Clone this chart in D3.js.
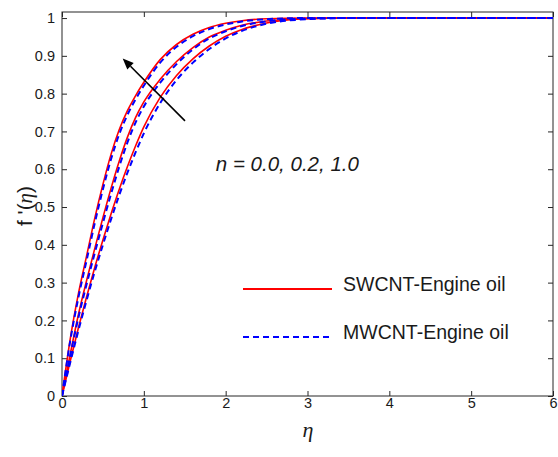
<!DOCTYPE html>
<html>
<head>
<meta charset="utf-8">
<script src="https://cdn.jsdelivr.net/npm/d3@7"></script>
<style>
  html, body { margin: 0; padding: 0; background: #fff; }
  svg { display: block; }
</style>
</head>
<body>
<svg id="chart" width="558" height="457"></svg>
<script>
// ---- data ----
const eta = [0,0.1,0.2,0.3,0.4,0.5,0.6,0.7,0.8,0.9,1.0,1.2,1.4,1.6,1.8,2.0,2.2,2.5,3.0,3.5,4,5,6];
const sw_n10 = [0,0.15,0.27,0.37,0.47,0.56,0.64,0.705,0.755,0.795,0.83,0.89,0.93,0.957,0.975,0.986,0.993,0.998,1,1,1,1,1];
const mw_n10 = [0,0.145,0.26,0.358,0.457,0.547,0.627,0.693,0.744,0.785,0.821,0.882,0.924,0.952,0.971,0.983,0.991,0.997,1,1,1,1,1];
const sw_n02 = [0,0.11,0.215,0.305,0.39,0.472,0.55,0.622,0.685,0.737,0.778,0.838,0.885,0.922,0.95,0.968,0.981,0.992,0.999,1,1,1,1];
const mw_n02 = [0,0.106,0.207,0.295,0.378,0.458,0.535,0.607,0.671,0.724,0.766,0.829,0.878,0.917,0.946,0.965,0.979,0.991,0.999,1,1,1,1];
const sw_n00 = [0,0.092,0.18,0.262,0.34,0.413,0.482,0.547,0.607,0.662,0.712,0.79,0.848,0.892,0.926,0.952,0.97,0.987,0.998,1,1,1,1];
const mw_n00 = [0,0.088,0.173,0.253,0.329,0.4,0.468,0.532,0.591,0.645,0.695,0.775,0.836,0.882,0.918,0.946,0.966,0.985,0.997,1,1,1,1];
const xTicks = [0,1,2,3,4,5,6];
const yTicks = [0,0.1,0.2,0.3,0.4,0.5,0.6,0.7,0.8,0.9,1];
const legendLabels = ["SWCNT-Engine oil", "MWCNT-Engine oil"];
const annotation = "n = 0.0, 0.2, 1.0";

// ---- layout ----
const svg = d3.select("#chart");
const m = {left: 62, top: 12, right: 5, bottom: 61};
const W = 558, H = 457;
const iw = W - m.left - m.right, ih = H - m.top - m.bottom;
const g = svg.append("g").attr("transform", `translate(${m.left},${m.top})`);

const x = d3.scaleLinear().domain([0, 6]).range([0, iw]);
const y = d3.scaleLinear().domain([0, 1.016]).range([ih, 0]);

svg.append("defs").append("clipPath").attr("id", "clip")
  .append("rect").attr("width", iw).attr("height", ih);

const axisColor = "#262626";
const fmt = d3.format("~g");
const font = "Arial, 'Liberation Sans', Helvetica, sans-serif";

// axes
const gx = g.append("g").attr("transform", `translate(0,${ih})`)
  .call(d3.axisBottom(x).tickValues(xTicks).tickFormat(fmt).tickSize(-5).tickPadding(2));
const gy = g.append("g")
  .call(d3.axisLeft(y).tickValues(yTicks).tickFormat(fmt).tickSize(-5).tickPadding(7));
const gt = g.append("g")
  .call(d3.axisTop(x).tickValues(xTicks).tickFormat("").tickSize(-5));
const gr = g.append("g").attr("transform", `translate(${iw},0)`)
  .call(d3.axisRight(y).tickValues(yTicks).tickFormat("").tickSize(-5));
[gx, gy, gt, gr].forEach(a => {
  a.select(".domain").remove();
  a.selectAll(".tick line").attr("stroke", axisColor).attr("stroke-width", 1);
  a.selectAll(".tick text").attr("fill", "#1a1a1a").style("font-family", font).style("font-size", "14.5px");
});
g.append("rect").attr("width", iw).attr("height", ih)
  .attr("fill", "none").attr("stroke", axisColor).attr("stroke-width", 1);

// curves
const line = d3.line().x(d => x(d[0])).y(d => y(d[1])).curve(d3.curveMonotoneX);
const series = [
  {v: sw_n00, type: "sw"}, {v: sw_n02, type: "sw"}, {v: sw_n10, type: "sw"},
  {v: mw_n00, type: "mw"}, {v: mw_n02, type: "mw"}, {v: mw_n10, type: "mw"}
];
const cg = g.append("g").attr("clip-path", "url(#clip)");
series.forEach(s => {
  cg.append("path")
    .datum(eta.map((e, i) => [e, s.v[i]]))
    .attr("d", line)
    .attr("fill", "none")
    .attr("stroke", s.type === "sw" ? "#ff0000" : "#0000ff")
    .attr("stroke-width", s.type === "sw" ? 1.6 : 2)
    .attr("stroke-dasharray", s.type === "sw" ? null : "6,4");
});

// arrow (in data coordinates)
const tail = [1.503, 0.728], tip = [0.742, 0.893];
const x1 = x(tail[0]), y1 = y(tail[1]), x2 = x(tip[0]), y2 = y(tip[1]);
const ang = Math.atan2(y2 - y1, x2 - x1);
const hl = 11, hw = 4.5;
const bx = x2 - hl * Math.cos(ang), by = y2 - hl * Math.sin(ang);
g.append("line").attr("x1", x1).attr("y1", y1).attr("x2", bx).attr("y2", by)
  .attr("stroke", "#000").attr("stroke-width", 1.6);
g.append("path")
  .attr("d", `M${x2},${y2} L${bx + hw * Math.sin(ang)},${by - hw * Math.cos(ang)} L${bx - hw * Math.sin(ang)},${by + hw * Math.cos(ang)} Z`)
  .attr("fill", "#000");

// annotation
g.append("text").attr("x", x(1.88)).attr("y", y(0.595))
  .style("font-family", font).style("font-size", "20.5px").style("font-style", "italic")
  .attr("fill", "#1a1a1a").text(annotation);

// legend
const leg = svg.append("g");
[0, 1].forEach(i => {
  const ly = 289 + i * 48;
  leg.append("line").attr("x1", 243).attr("x2", 332).attr("y1", ly).attr("y2", ly)
    .attr("stroke", i === 0 ? "#ff0000" : "#0000ff").attr("stroke-width", 2)
    .attr("stroke-dasharray", i === 0 ? null : "6,4");
  leg.append("text").attr("x", 343).attr("y", ly + 1.5)
    .style("font-family", font).style("font-size", "19.5px").attr("fill", "#1a1a1a")
    .text(legendLabels[i]);
});

// axis labels
svg.append("text").attr("x", 308).attr("y", 437).attr("text-anchor", "middle")
  .style("font-family", "'Liberation Serif', 'Times New Roman', serif").style("font-style", "italic")
  .style("font-size", "22px").attr("fill", "#1a1a1a").text("η");
const yl = svg.append("text").attr("transform", "translate(32,206) rotate(-90)")
  .attr("text-anchor", "middle").style("font-family", font).style("font-size", "21px").attr("fill", "#1a1a1a");
yl.append("tspan").text("f '(");
yl.append("tspan").style("font-family", "'Liberation Serif', 'Times New Roman', serif").style("font-style", "italic").text("η");
yl.append("tspan").text(")");
</script>
</body>
</html>
